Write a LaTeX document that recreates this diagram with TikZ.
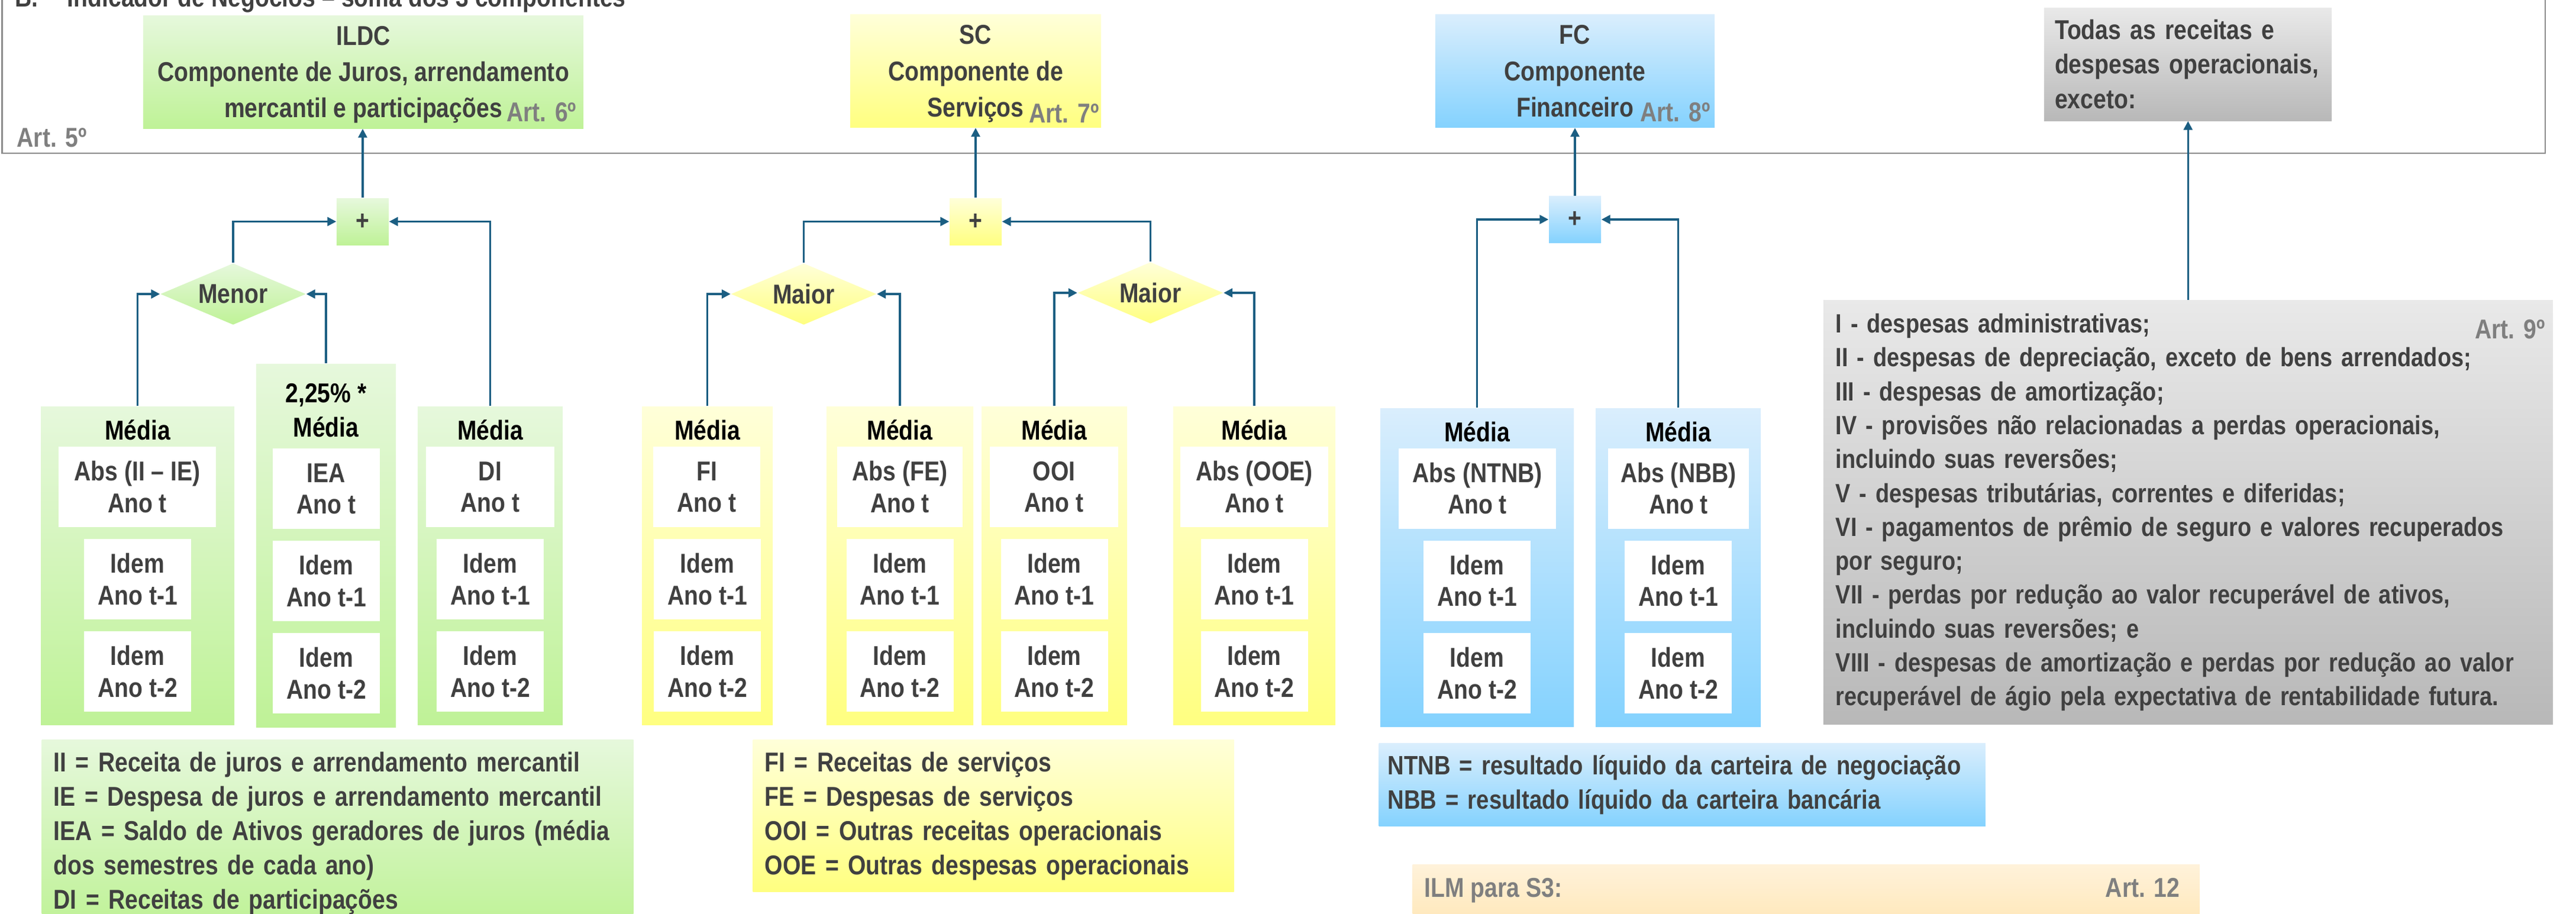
\documentclass[tikz,border=0pt]{standalone}
\usepackage{fontspec}
\setmainfont{Liberation Sans}[FakeStretch=0.85]
\usetikzlibrary{shapes.geometric,arrows.meta}
\definecolor{greentop}{HTML}{E6F8DC}
\definecolor{greenbot}{HTML}{BFF297}
\definecolor{yellowtop}{HTML}{FFFFD9}
\definecolor{yellowbot}{HTML}{FFFF80}
\definecolor{bluetop}{HTML}{DAEEFD}
\definecolor{bluebot}{HTML}{84D2FE}
\definecolor{greytop}{HTML}{E9E9E9}
\definecolor{greybot}{HTML}{B8B8B8}
\definecolor{orangetop}{HTML}{FFF2DA}
\definecolor{orangebot}{HTML}{FFE2A8}
\definecolor{setacor}{HTML}{1B5E82}
\definecolor{escuro}{HTML}{404040}
\definecolor{artcinza}{HTML}{7F7F7F}
\definecolor{moldcor}{HTML}{8C8C8C}

\begin{document}
\begin{tikzpicture}[auto,
    >={Triangle[length=0.15cm,width=0.15cm]},
    txt/.style ={font=\fontsize{13.1}{15.1}\selectfont\bfseries, text=escuro},
    juros/.style ={top color=greentop, bottom color=greenbot},
    servicos/.style ={top color=yellowtop, bottom color=yellowbot},
    financeiro/.style ={top color=bluetop, bottom color=bluebot},
    excluido/.style ={top color=greytop, bottom color=greybot},
    comp/.style ={txt, align=center, minimum height=1.91cm, text depth=0pt,
        font=\fontsize{13.1}{17.4}\selectfont\bfseries},
    soma/.style ={txt, inner sep=0pt, minimum width=0.88cm, minimum height=0.79cm},
    escolha/.style ={txt, diamond, aspect=2.37, inner sep=0pt, minimum width=2.46cm, minimum height=1.04cm},
    coluna/.style ={inner sep=0pt, minimum height=5.38cm},
    celula/.style ={txt, fill=white, align=center, inner sep=0pt, minimum width=1.81cm, minimum height=1.36cm},
    titulo/.style ={txt, text=black, inner sep=0pt},
    artigo/.style ={txt, text=artcinza, inner sep=0pt},
    legenda/.style ={txt, align=left, anchor=north west, inner xsep=0.2cm, inner ysep=0.2cm,
        font=\fontsize{13.1}{16.5}\selectfont\bfseries},
    moldura/.style ={draw=moldcor, line width=0.6pt},
    fluxo/.style ={draw=setacor, line width=0.9pt}]
   \useasboundingbox (0,0) rectangle (43.54,-15.44);

   % frame of the indicator
   \draw[moldura] (0.035,0.3) rectangle (43.02,-2.59);
   \node[txt, anchor=base west, inner sep=0pt] (titulo) at (0.25,-0.11) {B.\hspace{0.49cm}Indicador de Negócios – soma dos 3 componentes};
   \node[artigo, anchor=base west] (art5) at (0.28,-2.48) {Art. 5º};

   % components
   \node[comp, juros, minimum width=7.44cm] (ILDC) at (6.14,-1.215) {ILDC\\Componente de Juros, arrendamento\\mercantil e participações};
   \node[comp, servicos, minimum width=4.24cm] (SC) at (16.49,-1.20) {SC\\Componente de\\Serviços};
   \node[comp, financeiro, minimum width=4.72cm] (FC) at (26.62,-1.20) {FC\\Componente\\Financeiro};
   \node[txt, excluido, align=left, text width=4.5cm, inner xsep=0.18cm, minimum height=1.91cm,
       font=\fontsize{13.1}{16.6}\selectfont\bfseries] (todas) at (36.98,-1.085) {Todas as receitas e\\despesas operacionais,\\exceto:};
   \node[artigo, anchor=base east] (art6) at (9.75,-2.05) {Art. 6º};
   \node[artigo, anchor=base east] (art7) at (18.58,-2.07) {Art. 7º};
   \node[artigo, anchor=base east] (art8) at (28.91,-2.05) {Art. 8º};

   % sums and choices
   \node[soma, juros] (somaJ) at (6.13,-3.745) {+};
   \node[soma, servicos] (somaS) at (16.49,-3.745) {+};
   \node[soma, financeiro] (somaF) at (26.62,-3.71) {+};
   \node[escolha, juros] (menor) at (3.94,-4.97) {Menor};
   \node[escolha, servicos] (maiorA) at (13.585,-4.97) {Maior};
   \node[escolha, servicos] (maiorB) at (19.445,-4.95) {Maior};

   % ILDC columns
   \node[coluna, juros, minimum width=3.27cm] (colII) at (2.325,-9.56) {};
   \node[coluna, juros, minimum width=2.36cm, minimum height=6.14cm] (colIEA) at (5.51,-9.22) {};
   \node[coluna, juros, minimum width=2.45cm] (colDI) at (8.285,-9.56) {};
   \node[titulo] (mII) at (2.325,-7.27) {Média};
   \node[titulo, align=center, font=\fontsize{13.1}{16.3}\selectfont\bfseries] (mIEA) at (5.51,-6.935) {2,25\% *\\Média};
   \node[titulo] (mDI) at (8.285,-7.27) {Média};
   \node[celula, minimum width=2.66cm] (cII0) at (2.32,-8.23) {Abs (II – IE)\\Ano t};
   \node[celula] (cII1) at (2.325,-9.79) {Idem\\Ano t-1};
   \node[celula] (cII2) at (2.325,-11.35) {Idem\\Ano t-2};
   \node[celula] (cIEA0) at (5.515,-8.26) {IEA\\Ano t};
   \node[celula] (cIEA1) at (5.515,-9.82) {Idem\\Ano t-1};
   \node[celula] (cIEA2) at (5.515,-11.38) {Idem\\Ano t-2};
   \node[celula, minimum width=2.17cm] (cDI0) at (8.285,-8.23) {DI\\Ano t};
   \node[celula] (cDI1) at (8.285,-9.79) {Idem\\Ano t-1};
   \node[celula] (cDI2) at (8.285,-11.35) {Idem\\Ano t-2};

   % SC columns
   \node[coluna, servicos, minimum width=2.21cm] (colFI) at (11.955,-9.56) {};
   \node[coluna, servicos, minimum width=2.48cm] (colFE) at (15.21,-9.56) {};
   \node[coluna, servicos, minimum width=2.46cm] (colOOI) at (17.82,-9.56) {};
   \node[coluna, servicos, minimum width=2.74cm] (colOOE) at (21.20,-9.56) {};
   \node[titulo] (mFI) at (11.955,-7.27) {Média};
   \node[titulo] (mFE) at (15.21,-7.27) {Média};
   \node[titulo] (mOOI) at (17.82,-7.27) {Média};
   \node[titulo] (mOOE) at (21.20,-7.27) {Média};
   \node[celula] (cFI0) at (11.945,-8.23) {FI\\Ano t};
   \node[celula] (cFI1) at (11.955,-9.79) {Idem\\Ano t-1};
   \node[celula] (cFI2) at (11.955,-11.35) {Idem\\Ano t-2};
   \node[celula, minimum width=2.12cm] (cFE0) at (15.21,-8.23) {Abs (FE)\\Ano t};
   \node[celula] (cFE1) at (15.21,-9.79) {Idem\\Ano t-1};
   \node[celula] (cFE2) at (15.21,-11.35) {Idem\\Ano t-2};
   \node[celula, minimum width=2.17cm] (cOOI0) at (17.815,-8.23) {OOI\\Ano t};
   \node[celula] (cOOI1) at (17.82,-9.79) {Idem\\Ano t-1};
   \node[celula] (cOOI2) at (17.82,-11.35) {Idem\\Ano t-2};
   \node[celula, minimum width=2.50cm] (cOOE0) at (21.20,-8.23) {Abs (OOE)\\Ano t};
   \node[celula] (cOOE1) at (21.20,-9.79) {Idem\\Ano t-1};
   \node[celula] (cOOE2) at (21.20,-11.35) {Idem\\Ano t-2};

   % FC columns
   \node[coluna, financeiro, minimum width=3.27cm] (colNTNB) at (24.965,-9.59) {};
   \node[coluna, financeiro, minimum width=2.79cm] (colNBB) at (28.365,-9.59) {};
   \node[titulo] (mNTNB) at (24.965,-7.30) {Média};
   \node[titulo] (mNBB) at (28.365,-7.30) {Média};
   \node[celula, minimum width=2.66cm] (cNTNB0) at (24.97,-8.255) {Abs (NTNB)\\Ano t};
   \node[celula] (cNTNB1) at (24.965,-9.815) {Idem\\Ano t-1};
   \node[celula] (cNTNB2) at (24.965,-11.38) {Idem\\Ano t-2};
   \node[celula, minimum width=2.38cm] (cNBB0) at (28.37,-8.255) {Abs (NBB)\\Ano t};
   \node[celula] (cNBB1) at (28.365,-9.815) {Idem\\Ano t-1};
   \node[celula] (cNBB2) at (28.365,-11.38) {Idem\\Ano t-2};

   % exclusions
   \node[legenda, excluido, text width=11.91cm, minimum height=7.17cm, inner xsep=0.21cm,
       font=\fontsize{12.7}{16.3}\selectfont\bfseries] (excl) at (30.81,-5.07) {I - despesas administrativas;\\II - despesas de depreciação, exceto de bens arrendados;\\III - despesas de amortização;\\IV - provisões não relacionadas a perdas operacionais,\\incluindo suas reversões;\\V - despesas tributárias, correntes e diferidas;\\VI - pagamentos de prêmio de seguro e valores recuperados\\por seguro;\\VII - perdas por redução ao valor recuperável de ativos,\\incluindo suas reversões; e\\VIII - despesas de amortização e perdas por redução ao valor\\recuperável de ágio pela expectativa de rentabilidade futura.};
   \node[artigo, anchor=base east] (art9) at (43.02,-5.72) {Art. 9º};

   % connectors
   \draw[fluxo, ->] (somaJ) -- (somaJ |- ILDC.south);
   \draw[fluxo, ->] (menor.north) |- (somaJ.west);
   \draw[fluxo, ->] (colDI.north) |- (somaJ.east);
   \draw[fluxo, ->] (colII.north) |- (menor.west);
   \draw[fluxo, ->] (colIEA.north) |- (menor.east);
   \draw[fluxo, ->] (somaS) -- (somaS |- SC.south);
   \draw[fluxo, ->] (maiorA.north) |- (somaS.west);
   \draw[fluxo, ->] (maiorB.north) |- (somaS.east);
   \draw[fluxo, ->] (colFI.north) |- (maiorA.west);
   \draw[fluxo, ->] (colFE.north) |- (maiorA.east);
   \draw[fluxo, ->] (colOOI.north) |- (maiorB.west);
   \draw[fluxo, ->] (colOOE.north) |- (maiorB.east);
   \draw[fluxo, ->] (somaF) -- (somaF |- FC.south);
   \draw[fluxo, ->] (colNTNB.north) |- (somaF.west);
   \draw[fluxo, ->] (colNBB.north) |- (somaF.east);
   \draw[fluxo, ->] (excl) -- (excl |- todas.south);

   % legends
   \node[legenda, juros, text width=9.6cm] (legJ) at (0.70,-12.50) {II = Receita de juros e arrendamento mercantil\\IE = Despesa de juros e arrendamento mercantil\\IEA = Saldo de Ativos geradores de juros (média\\dos semestres de cada ano)\\DI = Receitas de participações};
   \node[legenda, servicos, text width=7.73cm, minimum height=2.5cm] (legS) at (12.72,-12.50) {FI = Receitas de serviços\\FE = Despesas de serviços\\OOI = Outras receitas operacionais\\OOE = Outras despesas operacionais};
   \node[legenda, financeiro, text width=9.95cm, minimum height=1.33cm, inner xsep=0.15cm,
       font=\fontsize{12.8}{16.3}\selectfont\bfseries] (legF) at (23.30,-12.56) {NTNB = resultado líquido da carteira de negociação\\NBB = resultado líquido da carteira bancária};
   \node[top color=orangetop, bottom color=orangebot, anchor=north west, inner sep=0pt,
       minimum width=13.30cm, minimum height=1.5cm] (ilm) at (23.87,-14.61) {};
   \node[artigo, anchor=base west] (ilmtxt) at (24.07,-15.16) {ILM para S3:};
   \node[artigo, anchor=base east] (art12) at (36.85,-15.16) {Art. 12};
 \end{tikzpicture}
\end{document}
